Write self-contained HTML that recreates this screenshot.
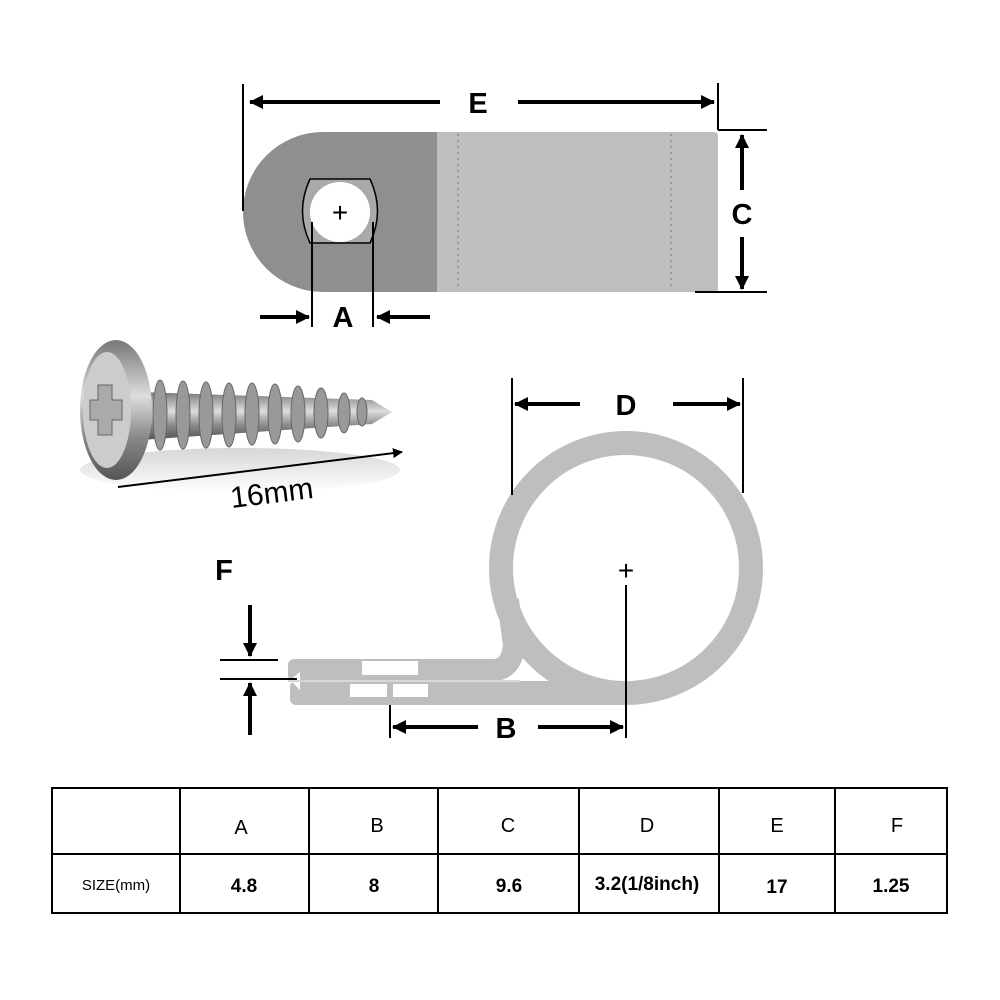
<!DOCTYPE html>
<html><head><meta charset="utf-8"><style>
html,body{margin:0;padding:0;background:#fff;}
svg{display:block;}
text{font-family:"Liberation Sans",sans-serif;}
.lb{font-weight:bold;font-size:29px;}
</style></head><body>
<svg width="1000" height="1000" viewBox="0 0 1000 1000" xmlns="http://www.w3.org/2000/svg">
<defs>
<marker id="ah" markerWidth="10" markerHeight="10" refX="9" refY="5" orient="auto" markerUnits="userSpaceOnUse"><path d="M0,0 L10,5 L0,10 z" fill="#000"/></marker>
<marker id="ah2" markerWidth="14" markerHeight="14" refX="13" refY="7" orient="auto" markerUnits="userSpaceOnUse"><path d="M0,0 L14,7 L0,14 z" fill="#000"/></marker>
<linearGradient id="scr" x1="0" y1="0" x2="0" y2="1"><stop offset="0" stop-color="#777"/><stop offset="0.4" stop-color="#ddd"/><stop offset="0.7" stop-color="#888"/><stop offset="1" stop-color="#555"/></linearGradient>
<linearGradient id="shd" x1="0" y1="0" x2="0" y2="1"><stop offset="0" stop-color="#bbb"/><stop offset="1" stop-color="#fff"/></linearGradient>
</defs>

<!-- top clip -->
<path d="M323,132 L437,132 L437,292 L323,292 A80,80 0 0 1 323,132 Z" fill="#8f8f8f"/>
<path d="M437,132 L714,132 Q718,132 718,136 L718,288 Q718,292 714,292 L437,292 Z" fill="#bebebe"/>
<line x1="458" y1="134" x2="458" y2="290" stroke="#999" stroke-width="2" stroke-dasharray="2,4"/>
<line x1="671" y1="134" x2="671" y2="290" stroke="#999" stroke-width="2" stroke-dasharray="2,4"/>
<path d="M310,179 L370,179 Q385,211 370,243 L310,243 Q295,211 310,179 Z" fill="#aaa" stroke="#000" stroke-width="1.5"/>
<circle cx="340" cy="212" r="30" fill="#fff"/>
<text x="340" y="222" font-size="28" text-anchor="middle">+</text>
<!-- E -->
<line x1="243" y1="84" x2="243" y2="211" stroke="#000" stroke-width="2"/>
<line x1="718" y1="83" x2="718" y2="130" stroke="#000" stroke-width="2"/>
<line x1="440" y1="102" x2="250" y2="102" stroke="#000" stroke-width="4" marker-end="url(#ah2)"/>
<line x1="518" y1="102" x2="714" y2="102" stroke="#000" stroke-width="4" marker-end="url(#ah2)"/>
<text x="478" y="113" class="lb" text-anchor="middle">E</text>
<!-- C -->
<line x1="718" y1="130" x2="767" y2="130" stroke="#000" stroke-width="2"/>
<line x1="695" y1="292" x2="767" y2="292" stroke="#000" stroke-width="2"/>
<line x1="742" y1="190" x2="742" y2="135" stroke="#000" stroke-width="4" marker-end="url(#ah2)"/>
<line x1="742" y1="237" x2="742" y2="289" stroke="#000" stroke-width="4" marker-end="url(#ah2)"/>
<text x="742" y="224" class="lb" text-anchor="middle">C</text>
<!-- A -->
<line x1="312" y1="222" x2="312" y2="327" stroke="#000" stroke-width="2"/>
<line x1="373" y1="222" x2="373" y2="327" stroke="#000" stroke-width="2"/>
<line x1="260" y1="317" x2="309" y2="317" stroke="#000" stroke-width="4" marker-end="url(#ah2)"/>
<line x1="430" y1="317" x2="377" y2="317" stroke="#000" stroke-width="4" marker-end="url(#ah2)"/>
<text x="343" y="327" class="lb" text-anchor="middle">A</text>

<!-- screw -->
<ellipse cx="240" cy="470" rx="160" ry="22" fill="url(#shd)" opacity="0.6"/>
<path d="M140,392 L372,400 L392,412 L372,424 L140,440 Z" fill="url(#scr)"/>
<g fill="#999" stroke="#666" stroke-width="1">
<ellipse cx="160" cy="415" rx="7" ry="35"/><ellipse cx="183" cy="415" rx="7" ry="34"/><ellipse cx="206" cy="415" rx="7" ry="33"/>
<ellipse cx="229" cy="415" rx="7" ry="32"/><ellipse cx="252" cy="414" rx="7" ry="31"/><ellipse cx="275" cy="414" rx="7" ry="30"/>
<ellipse cx="298" cy="414" rx="7" ry="28"/><ellipse cx="321" cy="413" rx="7" ry="25"/><ellipse cx="344" cy="413" rx="6" ry="20"/><ellipse cx="362" cy="412" rx="5" ry="14"/>
</g>
<ellipse cx="116" cy="410" rx="36" ry="70" fill="url(#scr)"/>
<ellipse cx="107" cy="410" rx="24" ry="58" fill="#ccc"/>
<path d="M98,385 L112,385 L112,400 L122,400 L122,420 L112,420 L112,435 L98,435 L98,420 L90,420 L90,400 L98,400 Z" fill="#aaa" stroke="#666"/>
<line x1="118" y1="487" x2="402" y2="452" stroke="#000" stroke-width="2" marker-end="url(#ah)"/>
<text x="272" y="503" font-size="30" text-anchor="middle" transform="rotate(-7 272 495)">16mm</text>

<!-- bottom clip -->
<circle cx="626" cy="568" r="125" fill="none" stroke="#bebebe" stroke-width="24"/>
<rect x="290" y="681" width="336" height="24" rx="6" fill="#bebebe"/>
<path d="M296,670 L495,670 Q512,668 514,645 L508,600" fill="none" stroke="#bebebe" stroke-width="22"/>
<rect x="288" y="659" width="20" height="22" rx="6" fill="#bebebe"/>
<path d="M290,680 L300,672 L300,690 Z" fill="#fff"/>
<line x1="288" y1="681" x2="520" y2="681" stroke="#d8d8d8" stroke-width="2"/>
<rect x="362" y="661" width="56" height="14" fill="#fff"/>
<rect x="350" y="684" width="37" height="13" fill="#fff"/>
<rect x="393" y="684" width="35" height="13" fill="#fff"/>
<!-- D -->
<line x1="512" y1="378" x2="512" y2="495" stroke="#000" stroke-width="2"/>
<line x1="743" y1="378" x2="743" y2="493" stroke="#000" stroke-width="2"/>
<line x1="580" y1="404" x2="515" y2="404" stroke="#000" stroke-width="4" marker-end="url(#ah2)"/>
<line x1="673" y1="404" x2="740" y2="404" stroke="#000" stroke-width="4" marker-end="url(#ah2)"/>
<text x="626" y="415" class="lb" text-anchor="middle">D</text>
<text x="626" y="580" font-size="28" text-anchor="middle">+</text>
<line x1="626" y1="585" x2="626" y2="738" stroke="#000" stroke-width="2"/>
<!-- B -->
<line x1="390" y1="705" x2="390" y2="738" stroke="#000" stroke-width="2"/>
<line x1="478" y1="727" x2="393" y2="727" stroke="#000" stroke-width="4" marker-end="url(#ah2)"/>
<line x1="538" y1="727" x2="623" y2="727" stroke="#000" stroke-width="4" marker-end="url(#ah2)"/>
<text x="506" y="738" class="lb" text-anchor="middle">B</text>
<!-- F -->
<text x="224" y="580" class="lb" font-size="27" text-anchor="middle">F</text>
<line x1="220" y1="660" x2="278" y2="660" stroke="#000" stroke-width="2"/>
<line x1="220" y1="679" x2="297" y2="679" stroke="#000" stroke-width="2"/>
<line x1="250" y1="605" x2="250" y2="656" stroke="#000" stroke-width="4" marker-end="url(#ah2)"/>
<line x1="250" y1="735" x2="250" y2="683" stroke="#000" stroke-width="4" marker-end="url(#ah2)"/>

<!-- table -->
<g stroke="#000" stroke-width="2" fill="none">
<rect x="52" y="788" width="895" height="125"/>
<line x1="52" y1="854" x2="947" y2="854"/>
<line x1="180" y1="788" x2="180" y2="913"/>
<line x1="309" y1="788" x2="309" y2="913"/>
<line x1="438" y1="788" x2="438" y2="913"/>
<line x1="579" y1="788" x2="579" y2="913"/>
<line x1="719" y1="788" x2="719" y2="913"/>
<line x1="835" y1="788" x2="835" y2="913"/>
</g>
<g font-size="20" text-anchor="middle">
<text x="241" y="834">A</text><text x="377" y="832">B</text><text x="508" y="832">C</text>
<text x="647" y="832">D</text><text x="777" y="832">E</text><text x="897" y="832">F</text>
</g>
<text x="116" y="890" font-size="15" text-anchor="middle">SIZE(mm)</text>
<g font-size="19" text-anchor="middle" font-weight="bold">
<text x="244" y="892">4.8</text><text x="374" y="892">8</text><text x="509" y="892">9.6</text>
<text x="647" y="890">3.2(1/8inch)</text><text x="777" y="893">17</text><text x="891" y="892">1.25</text>
</g>
</svg>
</body></html>
